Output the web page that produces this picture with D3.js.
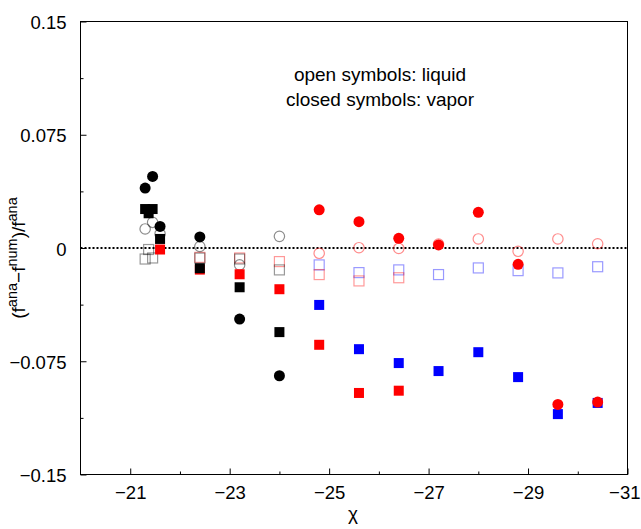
<!DOCTYPE html>
<html>
<head>
<meta charset="utf-8">
<script src="https://cdn.jsdelivr.net/npm/d3@7"></script>
<style>
  html, body { margin: 0; padding: 0; background: #fff; }
  svg { display: block; font-family: "Liberation Sans", Arial, sans-serif; }
</style>
</head>
<body>
<svg id="chart" width="641" height="529"></svg>
<script>
// Relative deviation of analytic vs. numeric free energy against chi.
const xTicks = [-21, -23, -25, -27, -29, -31];
const xMinor = [-22, -24, -26, -28, -30];
const yTicks = [0.15, 0.075, 0, -0.075, -0.15];
const yMinor = [0.1125, 0.0375, -0.0375, -0.1125];
const yTickLabels = ["0.15", "0.075", "0", "\u22120.075", "\u22120.15"];

// black series
const blackChi      = [-21.3, -21.45, -21.6, -22.4, -23.2, -24.0];
const blackVapC     = [0.0397, 0.0474, 0.0143, 0.0073, -0.0471, -0.0846];
const blackLiqC     = [0.0126, 0.0170, 0.0093, 0.0010, -0.0112, 0.0077];
const blackSqChi    = [-21.3, -21.37, -21.45, -21.6, -22.4, -23.2, -24.0];
const blackVapS     = [0.0258, 0.0230, 0.0258, 0.0060, -0.0134, -0.0260, -0.0557];
const blackLiqSChi  = [-21.3, -21.37, -21.45, -22.4, -23.2, -24.0];
const blackLiqS     = [-0.0073, -0.0010, -0.0066, -0.0067, -0.0073, -0.0145];

// red series
const redSqChi      = [-21.6, -22.4, -23.2, -24.0, -24.8, -25.6, -26.4];
const redVapS       = [-0.0010, -0.0143, -0.0174, -0.0273, -0.0641, -0.0960, -0.0945];
const redLiqSChi    = [-22.4, -23.2, -24.0, -24.8, -25.6, -26.4];
const redLiqS       = [-0.0062, -0.0066, -0.0090, -0.0176, -0.0218, -0.0197];
const redCircChi    = [-24.8, -25.6, -26.4, -27.2, -28.0, -28.8, -29.6, -30.4];
const redVapC       = [0.0253, 0.0174, 0.0064, 0.0020, 0.0236, -0.0108, -0.1036, -0.1020];
const redLiqC       = [-0.0035, 0.0002, -0.0003, 0.0026, 0.0060, -0.0022, 0.0060, 0.0028];

// blue series
const blueChi       = [-24.8, -25.6, -26.4, -27.2, -28.0, -28.8, -29.6, -30.4];
const blueVapS      = [-0.0377, -0.0670, -0.0762, -0.0815, -0.0690, -0.0855, -0.1100, -0.1026];
const blueLiqS      = [-0.0112, -0.0163, -0.0145, -0.0176, -0.0132, -0.0150, -0.0165, -0.0124];

const svg = d3.select("#chart");
const L = 80.5, R = 627.5, T = 21.5, B = 474.5;
const FONT = "Liberation Sans, Arial, sans-serif";
const W = 641;

const x = d3.scaleLinear().domain([-20, -31]).range([L, R]);
const y = d3.scaleLinear().domain([-0.15, 0.15]).range([B, T]);

// frame
svg.append("rect")
  .attr("x", L).attr("y", T).attr("width", R - L).attr("height", B - T)
  .attr("fill", "none").attr("stroke", "#000").attr("stroke-width", 1);

// ticks (inward)
const xAxis = d3.axisBottom(x).tickValues(xTicks).tickSize(-6)
  .tickFormat(d => String(d).replace("-", "\u2212")).tickPadding(10);
const gx = svg.append("g").attr("transform", `translate(0,${B})`).call(xAxis);
gx.select(".domain").remove();
gx.selectAll("text").attr("font-size", 18.5).attr("fill", "#000").attr("font-family", FONT)
  .attr("dy", null).attr("y", 24);
// keep the last label inside the page edge
gx.selectAll(".tick").filter(d => d === xTicks[xTicks.length - 1]).select("text")
  .attr("text-anchor", "end").attr("x", W - 1 - x(xTicks[xTicks.length - 1]));
const gxm = svg.append("g").attr("transform", `translate(0,${B})`)
  .call(d3.axisBottom(x).tickValues(xMinor).tickSize(-3).tickFormat(""));
gxm.select(".domain").remove();

const yAxis = d3.axisLeft(y).tickValues(yTicks).tickSize(-6)
  .tickFormat((d, i) => yTickLabels[i]).tickPadding(14);
const gy = svg.append("g").attr("transform", `translate(${L},0)`).call(yAxis);
gy.select(".domain").remove();
gy.selectAll("text").attr("font-size", 18.5).attr("fill", "#000").attr("font-family", FONT)
  .attr("dy", null).attr("y", 7);
const gym = svg.append("g").attr("transform", `translate(${L},0)`)
  .call(d3.axisLeft(y).tickValues(yMinor).tickSize(-3).tickFormat(""));
gym.select(".domain").remove();

// dotted zero line
svg.append("line")
  .attr("x1", L).attr("x2", R).attr("y1", y(0)).attr("y2", y(0))
  .attr("stroke", "#000").attr("stroke-width", 2).attr("stroke-dasharray", "2,2");

// markers
const S = 10, RAD = 5.5;
function zip(xs, ys) { return xs.map((v, i) => [v, ys[i]]); }
function squares(data, color, open) {
  svg.append("g").selectAll("rect").data(data).join("rect")
    .attr("x", d => x(d[0]) - S / 2).attr("y", d => y(d[1]) - S / 2)
    .attr("width", S).attr("height", S)
    .attr("fill", open ? "none" : color)
    .attr("stroke", open ? color : "none")
    .attr("stroke-opacity", open ? 0.4 : 1)
    .attr("stroke-width", 1.2);
}
function circles(data, color, open) {
  svg.append("g").selectAll("circle").data(data).join("circle")
    .attr("cx", d => x(d[0])).attr("cy", d => y(d[1]))
    .attr("r", open ? RAD - 0.3 : RAD)
    .attr("fill", open ? "none" : color)
    .attr("stroke", open ? color : "none")
    .attr("stroke-opacity", open ? 0.45 : 1)
    .attr("stroke-width", 1.2);
}

// liquid (open)
squares(zip(blueChi, blueLiqS), "#0000ff", true);
squares(zip(redLiqSChi, redLiqS), "#ff0000", true);
squares(zip(blackLiqSChi, blackLiqS), "#000000", true);
circles(zip(redCircChi, redLiqC), "#ff0000", true);
circles(zip(blackChi, blackLiqC), "#000000", true);

// vapor (closed)
squares(zip(redSqChi, redVapS), "#ff0000", false);
squares(zip(blackSqChi, blackVapS), "#000000", false);
circles(zip(blackChi, blackVapC), "#000000", false);
squares(zip(blueChi, blueVapS), "#0000ff", false);
circles(zip(redCircChi, redVapC), "#ff0000", false);

// annotation
const note = svg.append("g").attr("font-size", 19).attr("fill", "#000").attr("text-anchor", "middle");
note.append("text").attr("x", 380).attr("y", 81).text("open symbols: liquid");
note.append("text").attr("x", 380).attr("y", 106).text("closed symbols: vapor");

// axis titles
svg.append("text").attr("x", 353).attr("y", 520)
  .attr("text-anchor", "middle").attr("font-size", 19).text("\u03c7");

const yl = svg.append("text")
  .attr("transform", `translate(25,258) rotate(-90)`)
  .attr("text-anchor", "middle").attr("font-size", 19);
yl.append("tspan").text("(f");
yl.append("tspan").attr("font-size", 14.5).attr("dy", -8).text("ana");
yl.append("tspan").attr("dy", 8).text("\u2212f");
yl.append("tspan").attr("font-size", 14.5).attr("dy", -8).text("num");
yl.append("tspan").attr("dy", 8).text(")/f");
yl.append("tspan").attr("font-size", 14.5).attr("dy", -8).text("ana");
</script>
</body>
</html>
